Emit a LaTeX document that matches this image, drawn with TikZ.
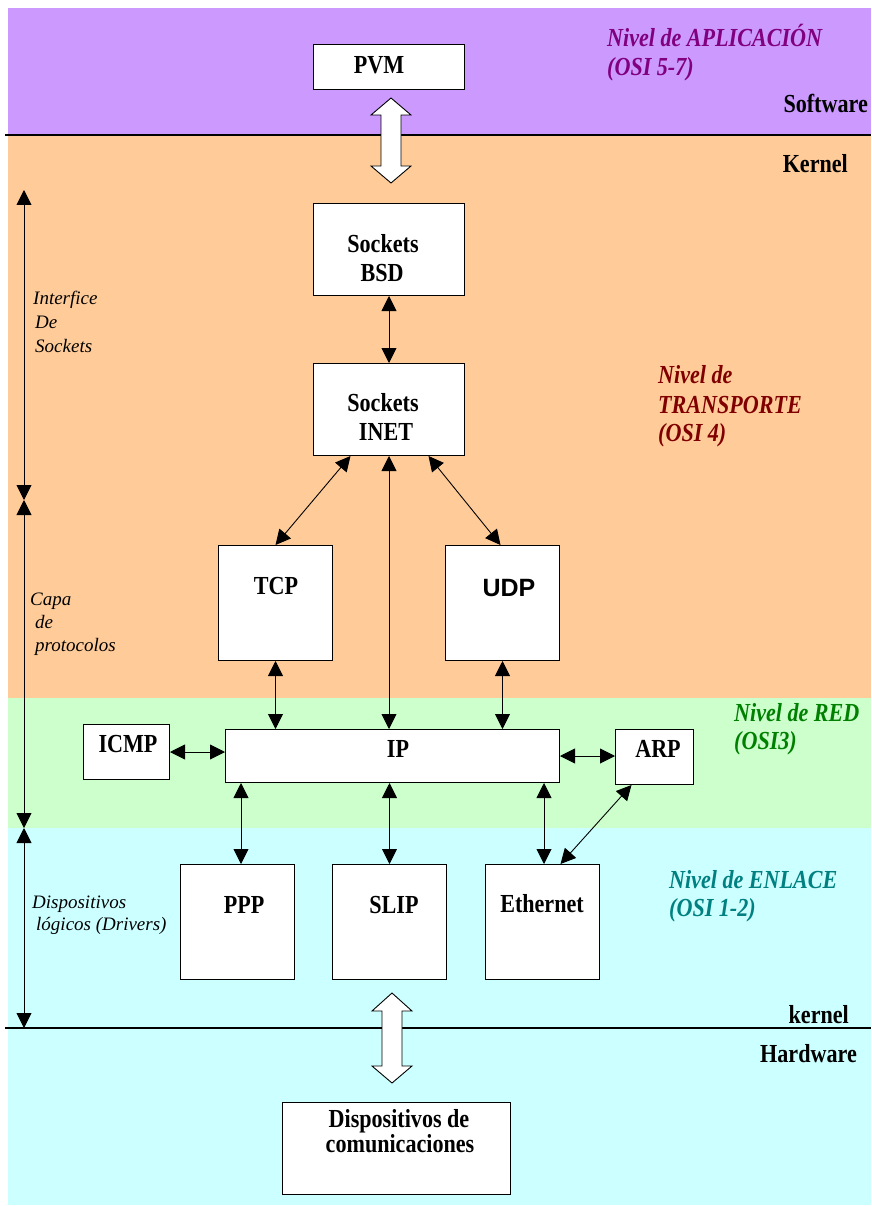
\documentclass[tikz,border=0pt]{standalone}
\usepackage{fontspec}
\setmainfont{Liberation Serif}[FakeStretch=0.85]
\newfontfamily\lfont{Liberation Serif}
\newfontfamily\sfont{Liberation Sans}
\usetikzlibrary{arrows.meta,calc}
\definecolor{bgapp}{HTML}{CC99FF}
\definecolor{bgtra}{HTML}{FFCC99}
\definecolor{bgred}{HTML}{CCFFCC}
\definecolor{bgenl}{HTML}{CCFFFF}
\definecolor{capp}{HTML}{800080}
\definecolor{ctra}{HTML}{800000}
\definecolor{cred}{HTML}{008000}
\definecolor{cenl}{HTML}{008080}
\tikzset{
  box/.style={draw=black, line width=1pt, fill=white, inner sep=0pt, anchor=north west},
  btxt/.style={font=\fontsize{26}{30}\selectfont\bfseries, anchor=base, inner sep=0pt},
  stxt/.style={font=\fontsize{25}{30}\selectfont\sfont\bfseries, anchor=base, inner sep=0pt},
  rtxt/.style={font=\fontsize{26}{30}\selectfont\bfseries, anchor=base east, inner sep=0pt},
  ltxt/.style={font=\fontsize{26}{30}\selectfont\bfseries\itshape, anchor=base west, inner sep=0pt},
  itxt/.style={font=\fontsize{19}{23}\selectfont\lfont\itshape, anchor=base west, inner sep=0pt},
  dbl/.style={line width=0.9pt, {Triangle[length=15pt,width=15pt]}-{Triangle[length=15pt,width=15pt]}},
  harrow/.style={draw=black, line width=0.9pt, fill=white, line join=miter},
  sepline/.style={line width=1.2pt, black}
}
\begin{document}
\begin{tikzpicture}[x=1pt,y=-1pt]
\useasboundingbox (0,0) rectangle (871,1206);
% background bands
\fill[bgapp] (8,8) rectangle (871,135);
\fill[bgtra] (8,135) rectangle (871,698);
\fill[bgred] (8,698) rectangle (871,828);
\fill[bgenl] (8,828) rectangle (871,1205);
\draw[sepline] (5,135) -- (871,135);
\draw[sepline] (5,1028) -- (871,1028);

% boxes
\node[box, minimum width=151, minimum height=45] (pvm) at (313,44) {};
\node[box, minimum width=151, minimum height=92] (bsd) at (313,203) {};
\node[box, minimum width=151, minimum height=92] (inet) at (313,363) {};
\node[box, minimum width=114, minimum height=115] (tcp) at (218,545) {};
\node[box, minimum width=114, minimum height=115] (udp) at (445,545) {};
\node[box, minimum width=86, minimum height=55] (icmp) at (83,724) {};
\node[box, minimum width=334, minimum height=53] (ip) at (225,729) {};
\node[box, minimum width=78, minimum height=55] (arp) at (615,729) {};
\node[box, minimum width=114, minimum height=115] (ppp) at (180,864) {};
\node[box, minimum width=114, minimum height=115] (slip) at (332,864) {};
\node[box, minimum width=114, minimum height=115] (eth) at (485,864) {};
\node[box, minimum width=228, minimum height=92] (disp) at (282,1102) {};

% box texts
\node[btxt] (pvmT) at (379,74) {PVM};
\node[btxt] (bsdT1) at (383,252) {Sockets};
\node[btxt] (bsdT2) at (382,281) {BSD};
\node[btxt] (inetT1) at (383,411) {Sockets};
\node[btxt] (inetT2) at (386,440) {INET};
\node[btxt] (tcpT) at (276,594) {TCP};
\node[stxt] (udpT) at (509,596) {UDP};
\node[btxt] (icmpT) at (128,752) {ICMP};
\node[btxt] (ipT) at (398,757) {IP};
\node[btxt] (arpT) at (658,757) {ARP};
\node[btxt] (pppT) at (244,913) {PPP};
\node[btxt] (slipT) at (394,913) {SLIP};
\node[btxt] (ethT) at (542,912) {Ethernet};
\node[btxt] (dispT1) at (399,1127) {Dispositivos de};
\node[btxt] (dispT2) at (400,1152) {comunicaciones};

% side texts
\node[rtxt] (sw) at (868,113) {Software};
\node[rtxt] (kn) at (848,173) {Kernel};
\node[rtxt] (kn2) at (849,1023) {kernel};
\node[rtxt] (hw) at (857,1062) {Hardware};

% level labels
\node[ltxt, text=capp] (app1) at (607,47) {Nivel de APLICACIÓN};
\node[ltxt, text=capp] (app2) at (607,76) {(OSI 5-7)};
\node[ltxt, text=ctra] (tra1) at (658,383) {Nivel de};
\node[ltxt, text=ctra] (tra2) at (658,413) {TRANSPORTE};
\node[ltxt, text=ctra] (tra3) at (658,441) {(OSI 4)};
\node[ltxt, text=cred] (red1) at (734,721) {Nivel de RED};
\node[ltxt, text=cred] (red2) at (734,749) {(OSI3)};
\node[ltxt, text=cenl] (enl1) at (669,888) {Nivel de ENLACE};
\node[ltxt, text=cenl] (enl2) at (669,916) {(OSI 1-2)};

% left labels
\node[itxt] (if1) at (33,304) {Interfice};
\node[itxt] (if2) at (35,328) {De};
\node[itxt] (if3) at (35,352) {Sockets};
\node[itxt] (cp1) at (30,605) {Capa};
\node[itxt] (cp2) at (35,628) {de};
\node[itxt] (cp3) at (35,651) {protocolos};
\node[itxt] (dl1) at (32,908) {Dispositivos};
\node[itxt] (dl2) at (36,930) {lógicos (Drivers)};

% left range arrows
\coordinate (a0) at (24,190);
\coordinate (a1) at (24,500);
\coordinate (a2) at (24,828);
\coordinate (a3) at (24,1028);
\draw[dbl] (a0) -- (a1);
\draw[dbl] (a1) -- (a2);
\draw[dbl] (a2) -- (a3);

% hollow double arrows
\draw[harrow] (391,98) -- (411,115) -- (401,115) -- (401,166) -- (411,166) -- (391,183)
  -- (371,166) -- (381,166) -- (381,115) -- (371,115) -- cycle;
\draw[harrow] (392,993) -- (412,1011) -- (402,1011) -- (402,1066) -- (412,1066) -- (392,1083)
  -- (372,1066) -- (382,1066) -- (382,1011) -- (372,1011) -- cycle;

% connectors
\draw[dbl] (bsd.south) -- (inet.south |- inet.north);
\draw[dbl] ($(inet.south)+(-38.5,0)$) -- (tcp.north);
\draw[dbl] ($(inet.south)+(39.5,0)$) -- ($(udp.north)+(-2,0)$);
\draw[dbl] (inet.south) -- (inet.south |- ip.north);
\draw[dbl] (tcp.south) -- (tcp.south |- ip.north);
\draw[dbl] (udp.south) -- (udp.south |- ip.north);
\draw[dbl] (icmp.east) -- (icmp.east -| ip.west);
\draw[dbl] (ip.east) -- (ip.east -| arp.west);
\coordinate (pppTop) at ($(ppp.north)+(3.5,0)$);
\draw[dbl] (pppTop |- ip.south) -- (pppTop);
\draw[dbl] (slip.north |- ip.south) -- (slip.north);
\coordinate (ethTop) at ($(eth.north)+(1.5,0)$);
\draw[dbl] (ethTop |- ip.south) -- (ethTop);
\draw[dbl] ($(arp.south)+(-23,0)$) -- ($(eth.north)+(18,0)$);
\end{tikzpicture}
\end{document}
